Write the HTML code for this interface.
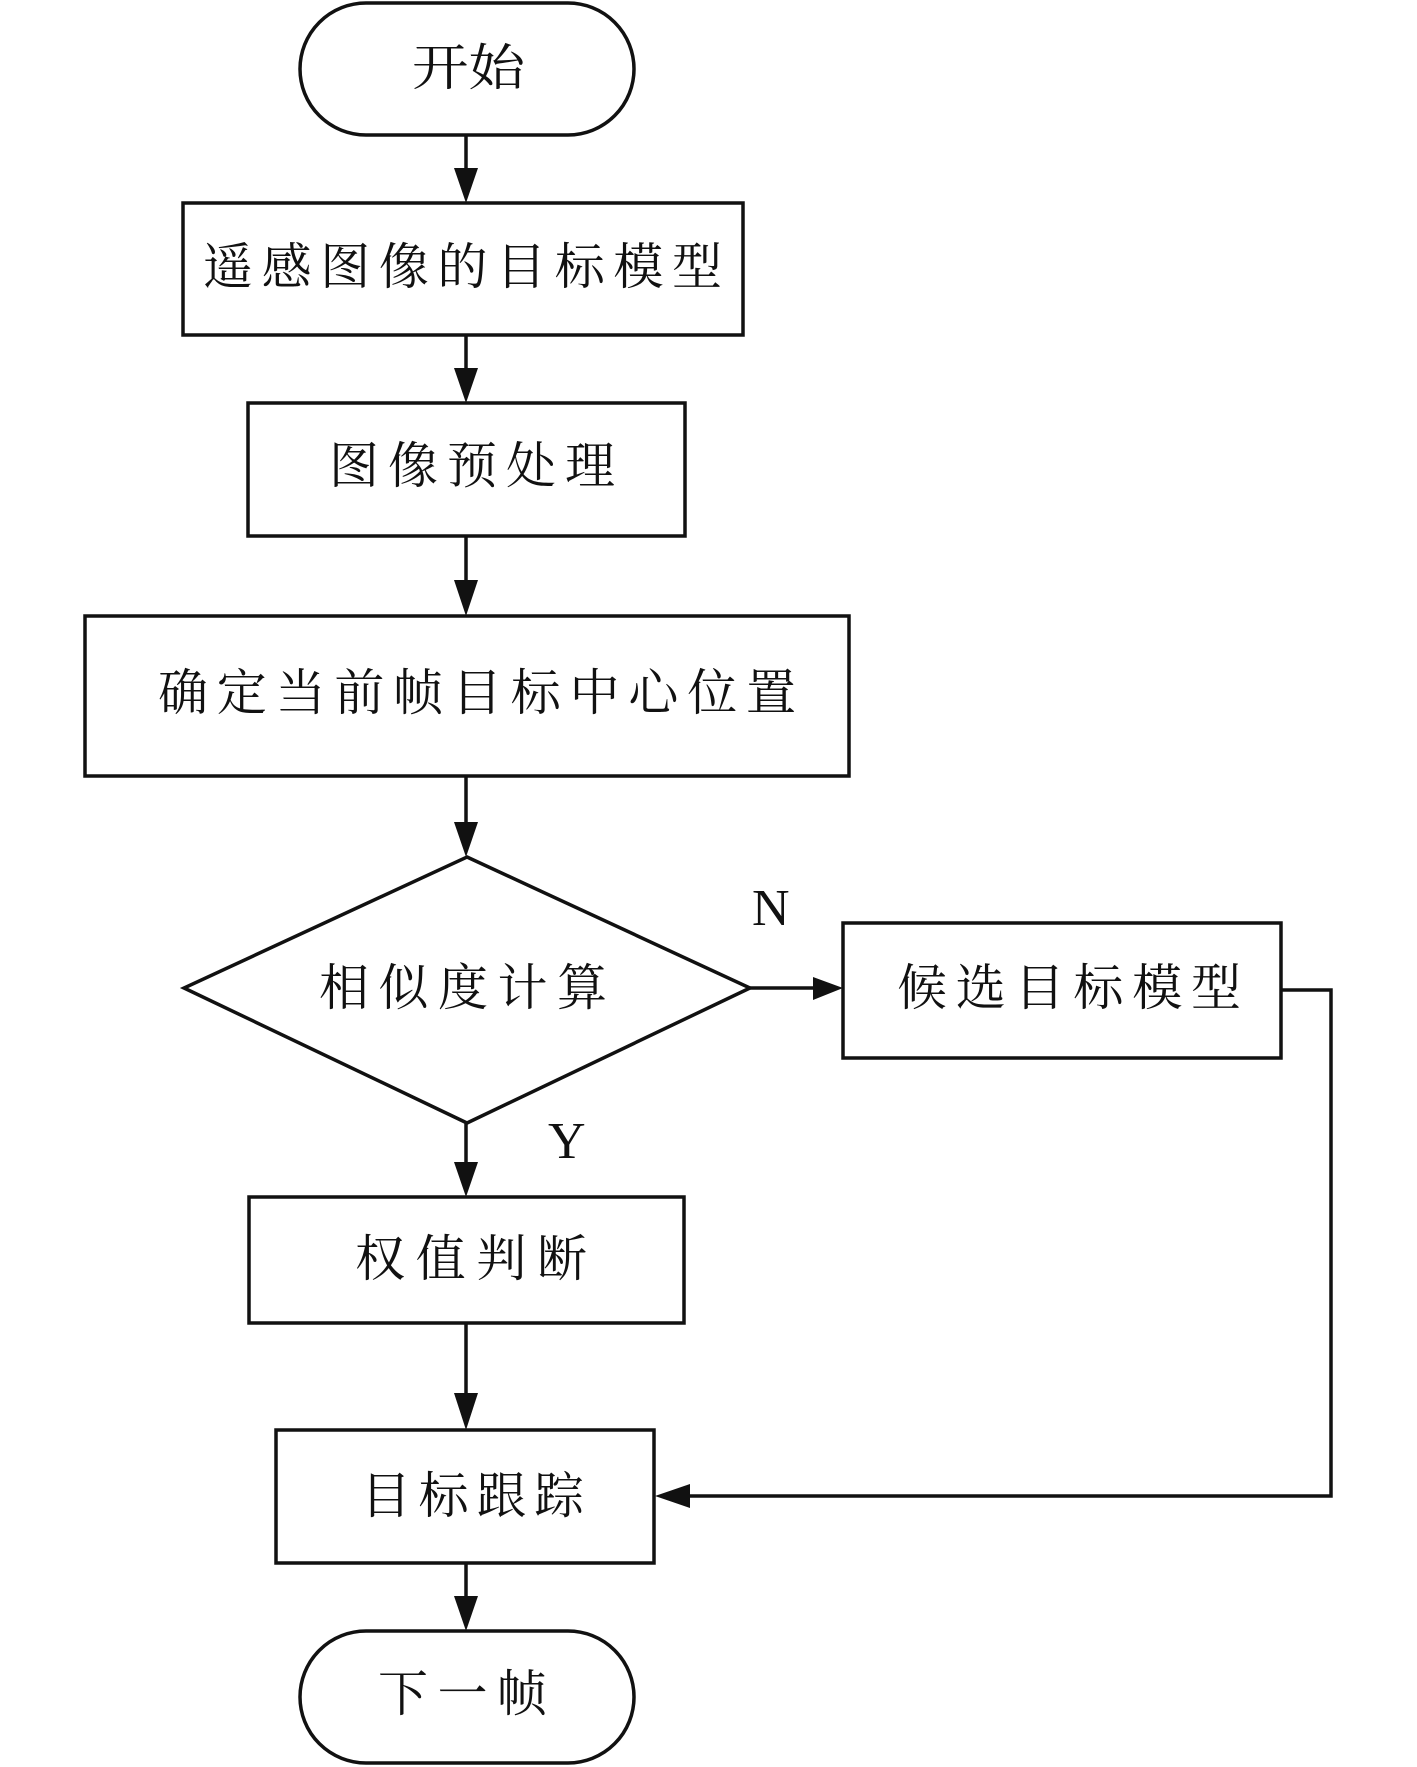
<!DOCTYPE html>
<html><head><meta charset="utf-8"><style>
html,body{margin:0;padding:0;background:#fff;}
svg{display:block;}
text{font-family:"Liberation Serif","Noto Serif CJK SC","Noto Sans CJK SC",serif;fill:#111;}
</style></head><body>
<svg width="1417" height="1767" viewBox="0 0 1417 1767" xmlns="http://www.w3.org/2000/svg">
<defs>
<marker id="a" markerWidth="12" markerHeight="10" refX="12" refY="5" orient="auto" markerUnits="userSpaceOnUse" viewBox="0 0 12 10">
</marker>
</defs>
<g fill="none" stroke="#111" stroke-width="3.5">
<rect x="300" y="3" width="334" height="132" rx="66"/>
<rect x="183" y="203" width="560" height="132"/>
<rect x="248" y="403" width="437" height="133"/>
<rect x="85" y="616" width="764" height="160"/>
<polygon points="467,857 750,988 467,1123 184,988"/>
<rect x="843" y="923" width="438" height="135"/>
<rect x="249" y="1197" width="435" height="126"/>
<rect x="276" y="1430" width="378" height="133"/>
<rect x="300" y="1631" width="334" height="132" rx="66"/>
<!-- connectors -->
<line x1="466" y1="135" x2="466" y2="170"/>
<line x1="466" y1="335" x2="466" y2="370"/>
<line x1="466" y1="536" x2="466" y2="583"/>
<line x1="466" y1="776" x2="466" y2="824"/>
<line x1="466" y1="1123" x2="466" y2="1164"/>
<line x1="466" y1="1323" x2="466" y2="1397"/>
<line x1="466" y1="1563" x2="466" y2="1598"/>
<line x1="750" y1="988" x2="815" y2="988"/>
<polyline points="1281,990 1331,990 1331,1496 690,1496"/>
</g>
<g fill="#111">
<polygon points="454,168 478,168 466,203"/>
<polygon points="454,368 478,368 466,403"/>
<polygon points="454,580 478,580 466,616"/>
<polygon points="454,822 478,822 466,857"/>
<polygon points="454,1162 478,1162 466,1197"/>
<polygon points="454,1393 478,1393 466,1430"/>
<polygon points="454,1596 478,1596 466,1631"/>
<polygon points="813,977 813,1000 843,988"/>
<polygon points="690,1484 690,1508 655,1496"/>
</g>
<g font-size="50" dominant-baseline="central">
<text x="412" y="68" textLength="113" lengthAdjust="spacingAndGlyphs">开始</text>
<text x="203" y="267" textLength="519" lengthAdjust="spacing">遥感图像的目标模型</text>
<text x="329" y="466" textLength="286" lengthAdjust="spacing">图像预处理</text>
<text x="158" y="693" textLength="638" lengthAdjust="spacing">确定当前帧目标中心位置</text>
<text x="319" y="988" textLength="288" lengthAdjust="spacing">相似度计算</text>
<text x="897" y="988" textLength="344" lengthAdjust="spacing">候选目标模型</text>
<text x="355" y="1259" textLength="232" lengthAdjust="spacing">权值判断</text>
<text x="361" y="1496" textLength="223" lengthAdjust="spacing">目标跟踪</text>
<text x="378" y="1694" textLength="169" lengthAdjust="spacing">下一帧</text>
</g>
<text x="752" y="925" font-size="52">N</text>
<text x="548" y="1158" font-size="52">Y</text>
</svg>
</body></html>
